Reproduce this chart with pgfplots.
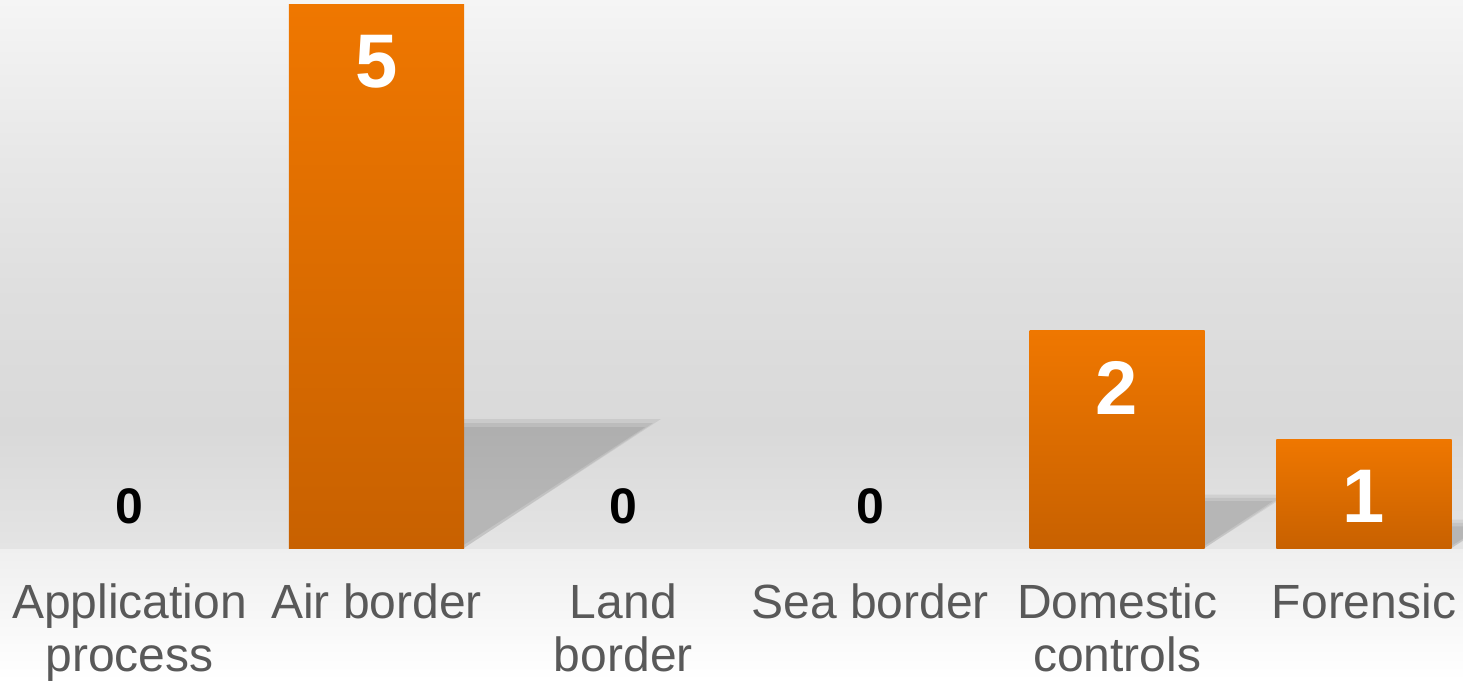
\documentclass[border=0pt]{standalone}
\usepackage{fontspec}
\setmainfont{Liberation Sans}
\usepackage{pgfplots}
\pgfplotsset{compat=1.18}
\usetikzlibrary{backgrounds}
\definecolor{barTop}{HTML}{EF7700}
\definecolor{barBot}{HTML}{C86100}
\definecolor{lab}{HTML}{595959}
\definecolor{bgA}{HTML}{E4E4E4}
\definecolor{bgB}{HTML}{D9D9D9}
\definecolor{bgC}{HTML}{DEDEDE}
\definecolor{bgD}{HTML}{E8E8E8}
\definecolor{bgE}{HTML}{F5F5F5}
\definecolor{bgF}{HTML}{EFEFEF}
\pgfdeclareverticalshading{plotbg}{100bp}{color(0bp)=(bgA); color(25bp)=(bgA); color(35.8bp)=(bgB); color(47.6bp)=(bgC); color(61.3bp)=(bgD); color(75bp)=(bgE); color(100bp)=(bgE)}
\begin{document}
\begin{tikzpicture}
\begin{axis}[
  scale only axis, width=731.5pt, height=274pt,
  xmin=-0.525, xmax=5.401, ymin=0, ymax=5.04,
  axis line style={draw=none},
  axis background/.style={shading=plotbg},
  ytick=\empty,
  xtick={0,1,2,3,4,5},
  xticklabels={{Application\\process},{Air border\\\mbox{}},{Land\\border},{Sea border\\\mbox{}},{Domestic\\controls},{Forensic\\\mbox{}}},
  major tick length=0pt,
  xticklabel style={font=\fontsize{24}{26.5}\selectfont, text=lab, align=center, anchor=base, yshift=-61.5pt},
  /pgf/number format/assume math mode=true,
  bar width=0.709,
]
% shadows (soft)
\fill[black, opacity=0.065] (axis cs:1.3545,0) -- (axis cs:1.3545,1.186) -- (axis cs:2.152,1.186) -- cycle;
\fill[black, opacity=0.065] (axis cs:1.3545,0) -- (axis cs:1.3545,1.149) -- (axis cs:2.120,1.149) -- cycle;
\fill[black, opacity=0.065] (axis cs:1.3545,0.03) -- (axis cs:1.3545,1.112) -- (axis cs:2.088,1.112) -- cycle;
\fill[black, opacity=0.065] (axis cs:4.3545,0) -- (axis cs:4.3545,0.49) -- (axis cs:4.69,0.49) -- cycle;
\fill[black, opacity=0.065] (axis cs:4.3545,0) -- (axis cs:4.3545,0.46) -- (axis cs:4.66,0.46) -- cycle;
\fill[black, opacity=0.065] (axis cs:4.3545,0.02) -- (axis cs:4.3545,0.43) -- (axis cs:4.63,0.43) -- cycle;
\fill[black, opacity=0.065] (axis cs:5.3545,0) -- (axis cs:5.3545,0.26) -- (axis cs:5.54,0.26) -- cycle;
\fill[black, opacity=0.065] (axis cs:5.3545,0) -- (axis cs:5.3545,0.23) -- (axis cs:5.5075,0.23) -- cycle;
\fill[black, opacity=0.065] (axis cs:5.3545,0.02) -- (axis cs:5.3545,0.20) -- (axis cs:5.48,0.20) -- cycle;
% bars (one plot each so that each bar gets its own gradient)
\addplot[ybar, bar shift=0pt, draw=none, top color=barTop, bottom color=barBot] coordinates {(1,5)};
\addplot[ybar, bar shift=0pt, draw=none, top color=barTop, bottom color=barBot] coordinates {(4,2)};
\addplot[ybar, bar shift=0pt, draw=none, top color=barTop, bottom color=barBot] coordinates {(5,1)};
% labels on bars
\addplot[draw=none, mark=none, nodes near coords,
  nodes near coords style={anchor=center, yshift=-28.5pt, text=white, font=\bfseries\fontsize{38}{38}\selectfont}]
  coordinates {(1,5) (4,2) (5,1)};
% zero values
\addplot[draw=none, mark=none, nodes near coords,
  nodes near coords style={anchor=center, yshift=21pt, text=black, font=\bfseries\fontsize{25}{25}\selectfont}]
  coordinates {(0,0) (2,0) (3,0)};
\end{axis}
\begin{scope}[on background layer]
\fill[top color=bgF, bottom color=white] (current axis.south west) rectangle ([yshift=-66.5pt]current axis.south east);
\end{scope}
\pgfresetboundingbox
\path[use as bounding box] (current axis.north west) rectangle ([yshift=-66.5pt]current axis.south east);
\end{tikzpicture}
\end{document}
